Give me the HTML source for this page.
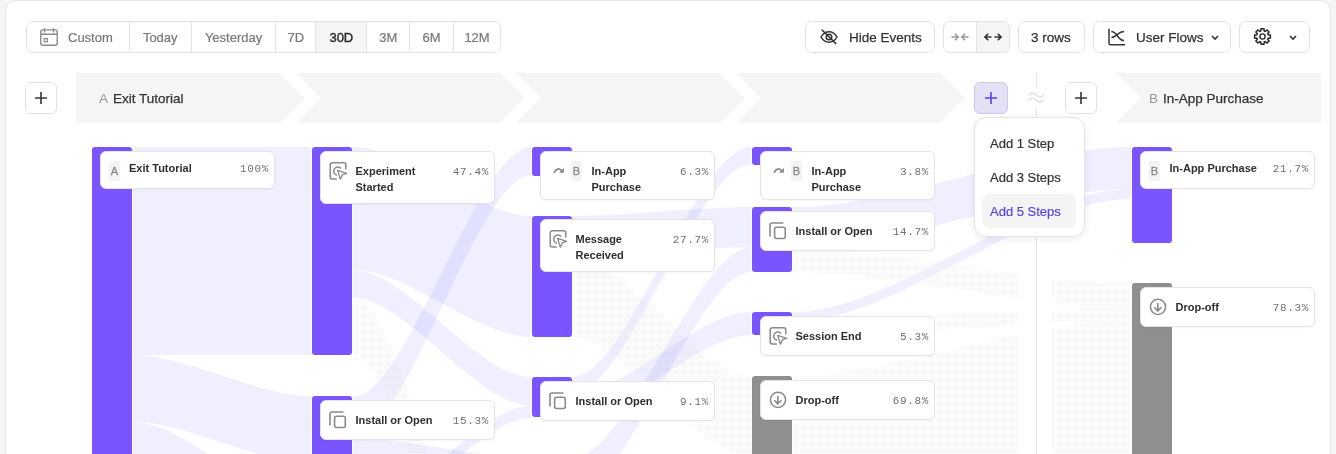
<!DOCTYPE html>
<html><head><meta charset="utf-8">
<style>
*{box-sizing:border-box;margin:0;padding:0}
html,body{width:1336px;height:454px;overflow:hidden;background:#f5f5f5;font-family:"Liberation Sans",sans-serif;color:#333}
body{will-change:transform}
#panel{position:absolute;left:5px;top:0;width:1326px;height:500px;background:#fff;border:1px solid #e6e6e6;border-radius:11px}
.abs{position:absolute}
/* toolbar */
.grp{position:absolute;top:21px;height:32px;border:1px solid #e3e3e3;border-radius:7px;background:#fff;display:flex;overflow:hidden}
.seg{height:30px;border-right:1px solid #e3e3e3;font-size:13px;color:#787878;-webkit-text-stroke:0.2px #787878;display:flex;align-items:center;justify-content:center;white-space:nowrap}
.seg:last-child{border-right:none}
.seg.sel{background:#f5f5f5;color:#2b2b2b;-webkit-text-stroke:0.4px #2b2b2b}
.btn{position:absolute;top:21px;height:32px;border:1px solid #e3e3e3;border-radius:7px;background:#fff;font-size:13.5px;color:#333;white-space:nowrap;-webkit-text-stroke:0.25px #333}
.btn span{position:absolute;top:8px}
/* header */
.hdr{position:absolute;top:73px;height:50px}
.plus{position:absolute;top:82px;width:32px;height:32px;border:1px solid #e3e3e3;border-radius:6px;background:#fff}
/* flows */
.lk{fill:rgba(110,95,255,0.1)}
.do{fill:url(#dots)}
.bar{position:absolute;width:40px;border-radius:3px}
.bar.p{background:#7a55ff}
.bar.g{background:#8f8f90}
.card{position:absolute;background:#fff;border:1px solid #e4e4e4;border-radius:6px;box-shadow:0 1px 2px rgba(0,0,0,0.04)}
.card .t{position:absolute;top:11px;width:92px;font-size:11px;font-weight:bold;line-height:16px;color:#2f2f2f}
.card .pc{position:absolute;right:5px;top:12px;font-family:"Liberation Mono",monospace;font-size:11px;letter-spacing:0.65px;line-height:16px;color:#707070}
.badge{position:absolute;top:9px;width:11px;height:20px;background:#f3f3f3;border-radius:2px;font-size:11px;color:#8a8a8a;-webkit-text-stroke:0.3px #8a8a8a;text-align:center;line-height:20px}
.ic{display:block}
.ic2{display:block}
/* dropdown */
#dd{position:absolute;left:974px;top:117px;width:111px;height:120px;background:#fff;border:1px solid #e4e4e4;border-radius:12px;box-shadow:0 2px 8px rgba(0,0,0,0.08)}
#dd div{-webkit-text-stroke:0.2px currentColor;position:absolute;left:7px;width:94px;height:34px;border-radius:8px;font-size:13px;color:#333;padding-left:8px;padding-top:1px;line-height:34px;white-space:nowrap}
</style></head>
<body>
<div id="panel"></div>

<!-- date range group -->
<div class="grp" style="left:26px;width:475px">
  <div class="seg" style="width:103px;justify-content:flex-start;padding-left:13px">
    <svg width="18" height="18" viewBox="0 0 18 18" style="margin-right:10px"><rect x="0.8" y="1.9" width="16.4" height="15.4" rx="2" fill="none" stroke="#8a8a8a" stroke-width="1.4"/><path d="M0.8 6.3H17.2M4.5 0.2v4.2M13.5 0.2v4.2" stroke="#8a8a8a" stroke-width="1.4"/><rect x="4.2" y="10.6" width="3.2" height="3.2" fill="none" stroke="#8a8a8a" stroke-width="1.2"/></svg>Custom</div>
  <div class="seg" style="width:62px">Today</div>
  <div class="seg" style="width:85px">Yesterday</div>
  <div class="seg" style="width:40px">7D</div>
  <div class="seg sel" style="width:51px">30D</div>
  <div class="seg" style="width:43px">3M</div>
  <div class="seg" style="width:44px">6M</div>
  <div class="seg" style="width:46px">12M</div>
</div>

<!-- right toolbar -->
<div class="btn" style="left:805px;width:130px">
  <svg class="abs" style="left:14px;top:7px" width="18" height="16" viewBox="0 0 18 16"><path d="M1 8C3 4.5 5.8 2.8 9 2.8S15 4.5 17 8c-2 3.5-4.8 5.2-8 5.2S3 11.5 1 8z" fill="none" stroke="#333" stroke-width="1.5"/><circle cx="9" cy="8" r="2.8" fill="none" stroke="#333" stroke-width="1.5"/><path d="M1.8 0.8L16.2 14.9" stroke="#333" stroke-width="1.5"/></svg>
  <span style="left:43px">Hide Events</span></div>
<div class="grp" style="left:943px;width:67px">
  <div class="seg" style="width:33px;color:#999;font-size:13px"><svg width="18" height="10" viewBox="0 0 18 10"><path d="M0.5 5H7M4 1.8L7.2 5 4 8.2M17.5 5H11M14 1.8L10.8 5 14 8.2" fill="none" stroke="#999" stroke-width="1.5"/></svg></div>
  <div class="seg sel" style="width:32px"><svg width="18" height="10" viewBox="0 0 18 10"><path d="M1 5H7.5M4.2 1.8L1 5l3.2 3.2M17 5h-6.5M13.8 1.8L17 5l-3.2 3.2" fill="none" stroke="#333" stroke-width="1.6"/></svg></div>
</div>
<div class="btn" style="left:1018px;width:67px"><span style="left:12px">3 rows</span></div>
<div class="btn" style="left:1093px;width:138px">
  <svg class="abs" style="left:14px;top:6px" width="19" height="19" viewBox="0 0 19 19"><path d="M1 0.7V15.2a1.5 1.5 0 0 0 1.5 1.5H17.1" fill="none" stroke="#3a3a3a" stroke-width="1.5"/><path d="M3.4 3.6C9 3.6 10 12.6 16.1 12.6M3.4 9.4C8 9.4 10 3.6 16.1 3.6" fill="none" stroke="#333" stroke-width="1.5"/></svg>
  <span style="left:42px">User Flows</span>
  <svg class="abs" style="left:117px;top:13px" width="8" height="6" viewBox="0 0 8 6"><path d="M1 1l3 3 3-3" fill="none" stroke="#333" stroke-width="1.6"/></svg></div>
<div class="btn" style="left:1239px;width:71px">
  <svg class="abs" style="left:13.4px;top:5.2px" width="19" height="19" viewBox="0 0 19 19"><path d="M7.78 3.86 L8.04 1.63 L10.96 1.63 L11.22 3.86 L12.27 4.29 L14.03 2.91 L16.09 4.97 L14.71 6.73 L15.14 7.78 L17.37 8.04 L17.37 10.96 L15.14 11.22 L14.71 12.27 L16.09 14.03 L14.03 16.09 L12.27 14.71 L11.22 15.14 L10.96 17.37 L8.04 17.37 L7.78 15.14 L6.73 14.71 L4.97 16.09 L2.91 14.03 L4.29 12.27 L3.86 11.22 L1.63 10.96 L1.63 8.04 L3.86 7.78 L4.29 6.73 L2.91 4.97 L4.97 2.91 L6.73 4.29Z" fill="none" stroke="#2a2a2a" stroke-width="1.5" stroke-linejoin="miter"/><circle cx="9.5" cy="9.5" r="2.6" fill="none" stroke="#2a2a2a" stroke-width="1.4"/></svg>
  <svg class="abs" style="left:49px;top:13px" width="8" height="6" viewBox="0 0 8 6"><path d="M1 1l3 3 3-3" fill="none" stroke="#333" stroke-width="1.6"/></svg></div>

<!-- header band -->
<svg class="abs" style="left:0;top:0" width="1336" height="130">
  <g fill="#f5f5f5">
    <path d="M76,73 H280 L305,98 L280,123 H76 Z"/>
    <path d="M296,73 H500 L525,98 L500,123 H296 L321,98 Z"/>
    <path d="M516,73 H720 L745,98 L720,123 H516 L541,98 Z"/>
    <path d="M736,73 H940 L965,98 L940,123 H736 L761,98 Z"/>
    <path d="M1116,73 H1321 V123 H1116 L1141,98 Z"/>
  </g>
</svg>
<div class="plus" style="left:25px"><svg class="abs" style="left:9px;top:9px" width="12" height="12" viewBox="0 0 12 12"><path d="M6 0v12M0 6h12" stroke="#333" stroke-width="1.6"/></svg></div>
<div class="abs" style="left:99px;top:91px;font-size:13.5px;color:#999">A</div>
<div class="abs" style="left:113px;top:91px;font-size:13.5px;color:#333;-webkit-text-stroke:0.25px #333">Exit Tutorial</div>
<div class="abs" style="left:1149px;top:91px;font-size:13.5px;color:#999">B</div>
<div class="abs" style="left:1163px;top:91px;font-size:13.5px;color:#333;-webkit-text-stroke:0.25px #333">In-App Purchase</div>

<!-- flows -->
<svg class="abs" style="left:0;top:0" width="1336" height="454">
  <defs>
    <pattern id="dots" width="2" height="2" patternUnits="userSpaceOnUse"><rect x="0" y="0" width="1" height="1" fill="#f2f2f2"/></pattern>
  </defs>
  <line x1="1036.5" y1="73" x2="1036.5" y2="454" stroke="#e6e6e6" stroke-width="1"/>
<path class="lk" d="M133,147 C186.4,147 257.6,147 311,147 L311,355 C257.6,355 186.4,355 133,355 Z"/>
<path class="lk" d="M133,355 C186.4,355 257.6,396 311,396 L311,463 C257.6,463 186.4,422 133,422 Z"/>
<path class="lk" d="M133,422 C186.4,422 257.6,504 311,504 L311,682 C257.6,682 186.4,600 133,600 Z"/>
<path class="lk" d="M353,147 C406.4,147 477.6,216 531,216 L531,337 C477.6,337 406.4,269.5 353,269.5 Z"/>
<path class="lk" d="M353,270 C406.4,270 477.6,377 531,377 L531,405.8 C477.6,405.8 406.4,298 353,298 Z"/>
<path class="do" d="M353,298 C406.4,298 477.6,700 531,700 L531,757 C477.6,757 406.4,355 353,355 Z"/>
<path class="lk" d="M353,397 C406.4,397 477.6,147 531,147 L531,175.5 C477.6,175.5 406.4,438 353,438 Z"/>
<path class="lk" d="M353,438 C406.4,438 477.6,458 531,458 L531,483 C477.6,483 406.4,463 353,463 Z"/>
<path class="lk" d="M353,512 C406.4,512 477.6,405.8 531,405.8 L531,418 C477.6,418 406.4,524 353,524 Z"/>
<path class="lk" d="M353,524 C406.4,524 477.6,483 531,483 L531,560 C477.6,560 406.4,600 353,600 Z"/>
<path class="lk" d="M573,216 C626.4,216 697.6,207 751,207 L751,247.5 C697.6,247.5 626.4,256.5 573,256.5 Z"/>
<path class="do" d="M573,256.5 C626.4,256.5 697.6,376 751,376 L751,456.5 C697.6,456.5 626.4,337 573,337 Z"/>
<path class="lk" d="M573,377 C626.4,377 697.6,147 751,147 L751,164.6 C697.6,164.6 626.4,393.6 573,393.6 Z"/>
<path class="lk" d="M573,393.6 C626.4,393.6 697.6,312 751,312 L751,335 C697.6,335 626.4,416.6 573,416.6 Z"/>
<path class="lk" d="M573,458 C626.4,458 697.6,247.5 751,247.5 L751,272 C697.6,272 626.4,495 573,495 Z"/>
<path class="do" d="M573,495 C626.4,495 697.6,456.5 751,456.5 L751,560 C697.6,560 626.4,600 573,600 Z"/>
<path class="lk" d="M793,207 C894.4,207 1029.6,147 1131,147 L1131,189 C1029.6,189 894.4,249 793,249 Z"/>
<path class="lk" d="M793,312 C894.4,312 1029.6,189 1131,189 L1131,199 C1029.6,199 894.4,322 793,322 Z"/>
<path class="do" d="M793,249 C894.4,249 1029.6,284 1131,284 L1131,307 C1029.6,307 894.4,272 793,272 Z"/>
<path class="do" d="M793,322 C894.4,322 1029.6,307 1131,307 L1131,320 C1029.6,320 894.4,335 793,335 Z"/>
<path class="do" d="M793,376 C894.4,376 1029.6,320 1131,320 L1131,625 C1029.6,625 894.4,681 793,681 Z"/>
</svg>
<div class="abs" style="left:1020px;top:237px;width:31px;height:217px;background:#fff"></div><div class="abs" style="left:1036px;top:237px;width:1px;height:217px;background:#e6e6e6"></div>
<div class="bar p" style="left:92px;top:147px;height:453px"></div>
<div class="bar p" style="left:312px;top:147px;height:208px"></div>
<div class="bar p" style="left:312px;top:396px;height:67px"></div>
<div class="bar g" style="left:312px;top:504px;height:96px"></div>
<div class="bar p" style="left:532px;top:147px;height:28.5px"></div>
<div class="bar p" style="left:532px;top:216px;height:121px"></div>
<div class="bar p" style="left:532px;top:377px;height:40px"></div>
<div class="bar p" style="left:532px;top:458px;height:142px"></div>
<div class="bar p" style="left:752px;top:147px;height:17.599999999999994px"></div>
<div class="bar p" style="left:752px;top:207px;height:65px"></div>
<div class="bar p" style="left:752px;top:312px;height:23px"></div>
<div class="bar g" style="left:752px;top:376px;height:314px"></div>
<div class="bar p" style="left:1132px;top:147px;height:96px"></div>
<div class="bar g" style="left:1132px;top:283px;height:407px"></div>
<div class="card" style="left:100px;top:151px;width:175px;height:38px"><span class="badge" style="left:8px">A</span><div class="t" style="left:28px;top:8px;width:99px">Exit Tutorial</div><div class="pc" style="top:9px">100%</div></div>
<div class="card" style="left:320px;top:151px;width:175px;height:52.5px"><span style="position:absolute;left:8px;top:10px"><svg class="ic" width="19" height="19" viewBox="0 0 19 19"><path d="M7.8 16.9H3.2a2 2 0 0 1-2-2V2.8a2 2 0 0 1 2-2h11.6a2 2 0 0 1 2 2v4.6" fill="none" stroke="#8a8a8a" stroke-width="1.5"/><path d="M12.1 6.5A4.2 4.2 0 1 0 8.2 13.3" fill="none" stroke="#8a8a8a" stroke-width="1.5"/><path d="M8.6 8.4L17.6 11.3L13.6 12.6L11.3 17.1Z" fill="none" stroke="#8a8a8a" stroke-width="1.3" stroke-linejoin="round"/></svg></span><div class="t" style="left:34.5px;top:11px;width:92.5px">Experiment Started</div><div class="pc" style="top:12px">47.4%</div></div>
<div class="card" style="left:320px;top:400px;width:175px;height:40px"><span style="position:absolute;left:8px;top:10px"><svg class="ic" width="19" height="19" viewBox="0 0 19 19"><path d="M1 14.4V3a2 2 0 0 1 2-2h11.4" fill="none" stroke="#8a8a8a" stroke-width="1.6"/><rect x="5.6" y="5.3" width="10.7" height="11.2" rx="2" fill="none" stroke="#8a8a8a" stroke-width="1.6"/></svg></span><div class="t" style="left:34.5px;top:11px;width:92.5px">Install or Open</div><div class="pc" style="top:12px">15.3%</div></div>
<div class="card" style="left:540px;top:151px;width:175px;height:49px"><span style="position:absolute;left:11.5px;top:14px"><svg class="ic2" width="12" height="8" viewBox="0 0 12 8"><path d="M1 6.7Q4.5 0.5 8.6 4.6" fill="none" stroke="#8a8a8a" stroke-width="1.8"/><path d="M10.9 1.8V6.8H6Z" fill="#8a8a8a"/></svg></span><span class="badge" style="left:30px">B</span><div class="t" style="left:50.5px;top:11px;width:76.5px">In-App Purchase</div><div class="pc" style="top:12px">6.3%</div></div>
<div class="card" style="left:540px;top:219px;width:175px;height:52.5px"><span style="position:absolute;left:8px;top:10px"><svg class="ic" width="19" height="19" viewBox="0 0 19 19"><path d="M7.8 16.9H3.2a2 2 0 0 1-2-2V2.8a2 2 0 0 1 2-2h11.6a2 2 0 0 1 2 2v4.6" fill="none" stroke="#8a8a8a" stroke-width="1.5"/><path d="M12.1 6.5A4.2 4.2 0 1 0 8.2 13.3" fill="none" stroke="#8a8a8a" stroke-width="1.5"/><path d="M8.6 8.4L17.6 11.3L13.6 12.6L11.3 17.1Z" fill="none" stroke="#8a8a8a" stroke-width="1.3" stroke-linejoin="round"/></svg></span><div class="t" style="left:34.5px;top:11px;width:92.5px">Message Received</div><div class="pc" style="top:12px">27.7%</div></div>
<div class="card" style="left:540px;top:381px;width:175px;height:40px"><span style="position:absolute;left:8px;top:10px"><svg class="ic" width="19" height="19" viewBox="0 0 19 19"><path d="M1 14.4V3a2 2 0 0 1 2-2h11.4" fill="none" stroke="#8a8a8a" stroke-width="1.6"/><rect x="5.6" y="5.3" width="10.7" height="11.2" rx="2" fill="none" stroke="#8a8a8a" stroke-width="1.6"/></svg></span><div class="t" style="left:34.5px;top:11px;width:92.5px">Install or Open</div><div class="pc" style="top:12px">9.1%</div></div>
<div class="card" style="left:760px;top:151px;width:175px;height:49px"><span style="position:absolute;left:11.5px;top:14px"><svg class="ic2" width="12" height="8" viewBox="0 0 12 8"><path d="M1 6.7Q4.5 0.5 8.6 4.6" fill="none" stroke="#8a8a8a" stroke-width="1.8"/><path d="M10.9 1.8V6.8H6Z" fill="#8a8a8a"/></svg></span><span class="badge" style="left:30px">B</span><div class="t" style="left:50.5px;top:11px;width:76.5px">In-App Purchase</div><div class="pc" style="top:12px">3.8%</div></div>
<div class="card" style="left:760px;top:211px;width:175px;height:40px"><span style="position:absolute;left:8px;top:10px"><svg class="ic" width="19" height="19" viewBox="0 0 19 19"><path d="M1 14.4V3a2 2 0 0 1 2-2h11.4" fill="none" stroke="#8a8a8a" stroke-width="1.6"/><rect x="5.6" y="5.3" width="10.7" height="11.2" rx="2" fill="none" stroke="#8a8a8a" stroke-width="1.6"/></svg></span><div class="t" style="left:34.5px;top:11px;width:92.5px">Install or Open</div><div class="pc" style="top:12px">14.7%</div></div>
<div class="card" style="left:760px;top:316px;width:175px;height:40px"><span style="position:absolute;left:8px;top:10px"><svg class="ic" width="19" height="19" viewBox="0 0 19 19"><path d="M7.8 16.9H3.2a2 2 0 0 1-2-2V2.8a2 2 0 0 1 2-2h11.6a2 2 0 0 1 2 2v4.6" fill="none" stroke="#8a8a8a" stroke-width="1.5"/><path d="M12.1 6.5A4.2 4.2 0 1 0 8.2 13.3" fill="none" stroke="#8a8a8a" stroke-width="1.5"/><path d="M8.6 8.4L17.6 11.3L13.6 12.6L11.3 17.1Z" fill="none" stroke="#8a8a8a" stroke-width="1.3" stroke-linejoin="round"/></svg></span><div class="t" style="left:34.5px;top:11px;width:92.5px">Session End</div><div class="pc" style="top:12px">5.3%</div></div>
<div class="card" style="left:760px;top:380px;width:175px;height:40px"><span style="position:absolute;left:8px;top:10px"><svg class="ic" width="19" height="19" viewBox="0 0 19 19"><circle cx="9" cy="8.8" r="7.6" fill="none" stroke="#8a8a8a" stroke-width="1.5"/><path d="M8.8 4.9V12.6M5.3 9.2L8.8 12.9L12.4 9.2" fill="none" stroke="#8a8a8a" stroke-width="1.6"/></svg></span><div class="t" style="left:34.5px;top:11px;width:92.5px">Drop-off</div><div class="pc" style="top:12px">69.8%</div></div>
<div class="card" style="left:1140px;top:151px;width:175px;height:38px"><span class="badge" style="left:8px">B</span><div class="t" style="left:28.5px;top:8px;width:98.5px">In-App Purchase</div><div class="pc" style="top:9px">21.7%</div></div>
<div class="card" style="left:1140px;top:287px;width:175px;height:40px"><span style="position:absolute;left:8px;top:10px"><svg class="ic" width="19" height="19" viewBox="0 0 19 19"><circle cx="9" cy="8.8" r="7.6" fill="none" stroke="#8a8a8a" stroke-width="1.5"/><path d="M8.8 4.9V12.6M5.3 9.2L8.8 12.9L12.4 9.2" fill="none" stroke="#8a8a8a" stroke-width="1.6"/></svg></span><div class="t" style="left:34.5px;top:11px;width:92.5px">Drop-off</div><div class="pc" style="top:12px">78.3%</div></div>

<!-- + step buttons -->
<div class="plus" style="left:974px;width:34px;background:#e4e1f6;border-color:#cdc9e6"><svg class="abs" style="left:10px;top:9px" width="12" height="12" viewBox="0 0 12 12"><path d="M6 0v12M0 6h12" stroke="#5a3ef2" stroke-width="1.6"/></svg></div>
<div class="abs" style="left:1030px;top:87px;width:14px;height:22px;background:#fff"></div>
<svg class="abs" style="left:0;top:0" width="1336" height="130"><path d="M1028.6 95.6C1031 92.2 1033.4 92.4 1036 94.8S1041.4 98 1043.6 94.8M1028.6 100.8C1031 97.4 1033.4 97.6 1036 100S1041.4 103.2 1043.6 100" fill="none" stroke="#e0e0e0" stroke-width="1.5"/></svg>
<div class="plus" style="left:1065px"><svg class="abs" style="left:9px;top:9px" width="12" height="12" viewBox="0 0 12 12"><path d="M6 0v12M0 6h12" stroke="#333" stroke-width="1.6"/></svg></div>

<div id="dd">
  <div style="top:8px">Add 1 Step</div>
  <div style="top:42px">Add 3 Steps</div>
  <div style="top:76px;background:#f4f4f5;color:#5d43ec">Add 5 Steps</div>
</div>
</body></html>
